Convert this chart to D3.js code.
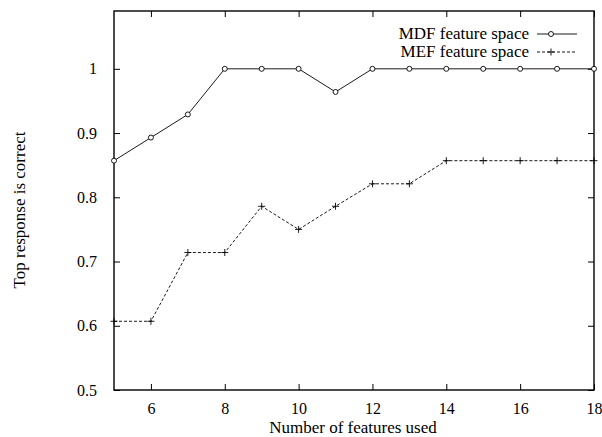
<!DOCTYPE html>
<html><head><meta charset="utf-8">
<script src="https://cdn.jsdelivr.net/npm/d3@7"></script>
<style>body{margin:0;background:#fff}svg{display:block}text{font-family:"Liberation Serif","DejaVu Serif",serif}</style>
</head><body>
<script>
const features = [5,6,7,8,9,10,11,12,13,14,15,16,17,18];
const mdf = [0.857,0.893,0.929,1,1,1,0.964,1,1,1,1,1,1,1];
const mef = [0.607,0.607,0.714,0.714,0.786,0.75,0.786,0.821,0.821,0.857,0.857,0.857,0.857,0.857];
const xTicks = [6,8,10,12,14,16,18];
const yTicks = [0.5,0.6,0.7,0.8,0.9,1];
const seriesNames = ["MDF feature space","MEF feature space"];

const W=602,H=437;
const m={l:114,r:594,t:11,b:390};
const svg=d3.select("body").append("svg").attr("width",W).attr("height",H);
const x=d3.scaleLinear().domain([5,18]).range([m.l,m.r]);
const y=d3.scaleLinear().domain([0.5,1.09]).range([m.b,m.t]);

const tl=6;
const gx=svg.append("g").attr("transform",`translate(0,${m.b})`)
  .call(d3.axisBottom(x).tickValues(xTicks).tickSize(-tl).tickPadding(tl+7).tickFormat(d3.format("d")));
const gxt=svg.append("g").attr("transform",`translate(0,${m.t})`)
  .call(d3.axisTop(x).tickValues(xTicks).tickSize(-tl).tickFormat(""));
const gy=svg.append("g").attr("transform",`translate(${m.l},0)`)
  .call(d3.axisLeft(y).tickValues(yTicks).tickSize(-tl).tickPadding(tl+11).tickFormat(d=>d===1?"1":d3.format(".1f")(d)));
const gyr=svg.append("g").attr("transform",`translate(${m.r},0)`)
  .call(d3.axisRight(y).tickValues(yTicks).tickSize(-tl).tickFormat(""));
[gx,gxt,gy,gyr].forEach(g=>{
  g.select(".domain").remove();
  g.attr("font-family",null);
  g.selectAll("line").attr("stroke","#000").attr("stroke-width",1);
  g.selectAll("text").attr("font-size",16).attr("fill","#000");
});
svg.append("rect").attr("x",m.l).attr("y",m.t).attr("width",m.r-m.l).attr("height",m.b-m.t)
  .attr("fill","none").attr("stroke","#000").attr("stroke-width",1.4);

const line=d3.line().x((d,i)=>x(features[i])).y(d=>y(d));
svg.append("path").datum(mdf).attr("d",line).attr("fill","none").attr("stroke","#000").attr("stroke-width",0.9);
svg.append("path").datum(mef).attr("d",line).attr("fill","none").attr("stroke","#000").attr("stroke-width",0.9).attr("stroke-dasharray","3,2");

const diamond=(g,cx,cy)=>g.append("circle").attr("cx",cx).attr("cy",cy).attr("r",2.5).attr("fill","#fff").attr("stroke","#000").attr("stroke-width",0.9);
const plus=(g,cx,cy)=>g.append("path").attr("d",`M${cx-3.5},${cy}H${cx+3.5}M${cx},${cy-3.5}V${cy+3.5}`).attr("stroke","#000").attr("stroke-width",0.9);
const mk=svg.append("g");
mdf.forEach((v,i)=>diamond(mk,x(features[i]),y(v)));
mef.forEach((v,i)=>plus(mk,x(features[i]),y(v)));

const lg=svg.append("g");
const ly=[34,52];
seriesNames.forEach((n,i)=>{
  lg.append("text").attr("x",529).attr("y",ly[i]+5).attr("text-anchor","end")
    .attr("font-size",17).text(n);
  lg.append("line").attr("x1",537).attr("x2",577).attr("y1",ly[i]).attr("y2",ly[i])
    .attr("stroke","#000").attr("stroke-width",0.9).attr("stroke-dasharray",i===1?"3,2":null);
});
diamond(lg,551,ly[0]);
plus(lg,551,ly[1]);

svg.append("text").attr("x",(m.l+m.r)/2-1).attr("y",433).attr("text-anchor","middle")
  .attr("font-size",17).text("Number of features used");
svg.append("text").attr("transform","translate(25,210) rotate(-90)").attr("text-anchor","middle")
  .attr("font-size",17).text("Top response is correct");
</script>
</body></html>
